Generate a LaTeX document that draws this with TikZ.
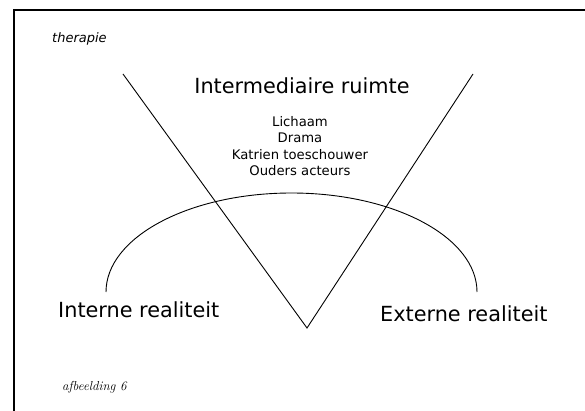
\documentclass[tikz,border=0pt]{standalone}
\usepackage{fontspec}
\setmainfont{DejaVu Sans}
\newfontfamily\captionserif{Latin Modern Roman}
\begin{document}
\begin{tikzpicture}[x=1pt,y=-1pt,
  frameline/.style={line width=1.8pt},
  thinline/.style={line width=0.9pt},
  bigtext/.style={font=\fontsize{20.8}{24}\selectfont, inner sep=0pt},
  smalltext/.style={font=\fontsize{13.2}{16.3}\selectfont, inner sep=0pt, align=center},
  tagtext/.style={font=\fontsize{13}{15}\selectfont\itshape, inner sep=0pt},
  captiontext/.style={font=\captionserif\fontsize{13}{15}\selectfont\itshape, inner sep=0pt}]
  \useasboundingbox (0,0) rectangle (585,411);
  % page frame (top and left edges)
  \draw[frameline] (14,411) -- (14,10) -- (585,10);
  % V shape
  \coordinate (vl) at (123,74);
  \coordinate (vb) at (307,328);
  \coordinate (vr) at (473,74);
  \draw[thinline] (vl) -- (vb) -- (vr);
  % half ellipse
  \coordinate (al) at (106,292);
  \draw[thinline] (al) arc[start angle=180, end angle=0, x radius=185.5pt, y radius=99pt];
  % labels
  \node[tagtext, anchor=base west] (ther) at (52,43) {therapie};
  \node[bigtext, anchor=base] (inter) at (302,94) {Intermediaire ruimte};
  \node[smalltext] (list) at (300,146) {Lichaam\\Drama\\Katrien toeschouwer\\Ouders acteurs};
  \node[bigtext, anchor=base west] (intern) at (58,317) {Interne realiteit};
  \node[bigtext, anchor=base west] (extern) at (380,321) {Externe realiteit};
  \node[captiontext, anchor=base west] (afb) at (62,390) {afbeelding 6};
\end{tikzpicture}
\end{document}
